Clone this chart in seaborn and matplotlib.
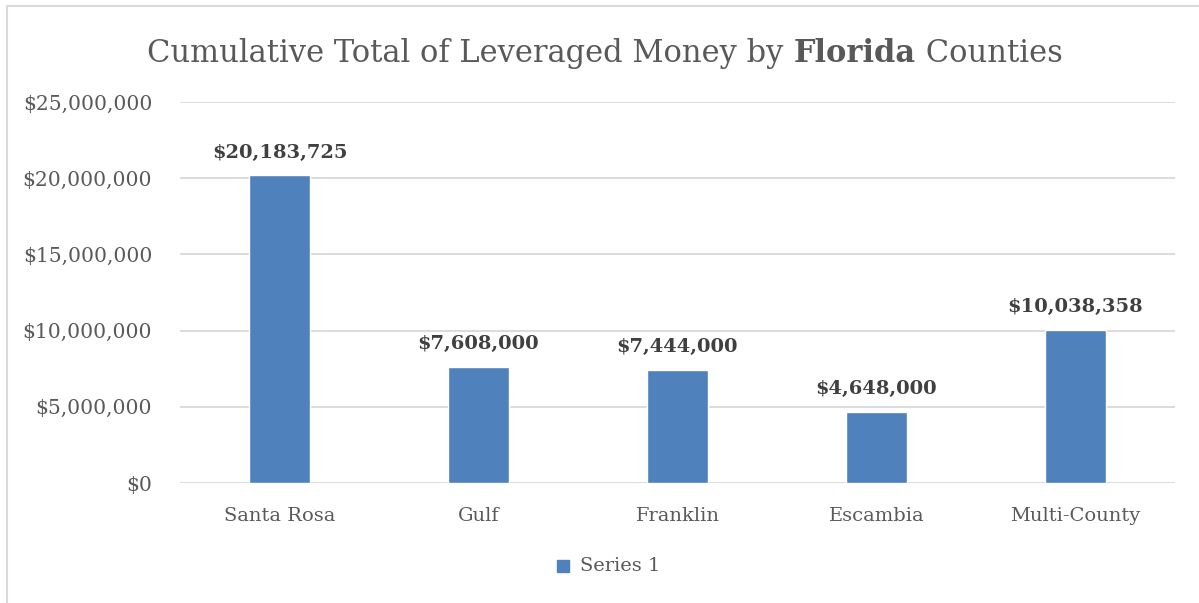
import pandas as pd
import numpy as np
import matplotlib.pyplot as plt
import seaborn as sns
from matplotlib.patches import Rectangle
from matplotlib.lines import Line2D

# data
counties = ["Santa Rosa", "Gulf", "Franklin", "Escambia", "Multi-County"]
amounts = [20183725, 7608000, 7444000, 4648000, 10038358]
y_ticks = [0, 5000000, 10000000, 15000000, 20000000, 25000000]

sns.set_theme(style="white")
plt.rcParams["font.family"] = ["DejaVu Serif"]

df = pd.DataFrame({"county": counties, "amount": amounts, "series": "Series 1"})

fig = plt.figure(figsize=(11.99, 6.03), dpi=100)
ax = fig.add_axes([180 / 1199, 1 - 483 / 603, 995 / 1199, 381 / 603])

sns.barplot(data=df, x="county", y="amount", hue="series", palette=["#4f81bd"],
            width=0.31, ax=ax, legend=False, saturation=1)

ax.set_ylim(0, 25000000)
ax.set_yticks(y_ticks)
ax.set_yticklabels([f"${v:,.0f}" for v in y_ticks])
ax.yaxis.grid(True, color="#d9d9d9", linewidth=1.3)
ax.set_axisbelow(True)
for s in ax.spines.values():
    s.set_visible(False)
ax.tick_params(axis="both", length=0, labelsize=14, labelcolor="#595959")
ax.tick_params(axis="y", pad=20, labelsize=14.6)
ax.tick_params(axis="x", pad=17)
ax.set_xlabel("")
ax.set_ylabel("")

# data labels
for i, v in enumerate(amounts):
    ax.annotate(f"${v:,.0f}", (i, v), xytext=(0, 10), textcoords="offset points",
                ha="center", va="bottom", fontsize=14, fontweight="bold", color="#404040")

# title with bold word
fig.canvas.draw()
r = fig.canvas.get_renderer()
parts = [("Cumulative Total of Leveraged Money by ", "normal"), ("Florida", "bold"), (" Counties", "normal")]
texts = []
for txt, w in parts:
    t = fig.text(0, 1 - 62 / 603, txt, fontsize=22, fontweight=w, color="#595959", va="baseline")
    texts.append(t)
widths = [t.get_window_extent(r).width for t in texts]
x = (605 - sum(widths) / 2)
for t, wd in zip(texts, widths):
    t.set_x(x / 1199)
    x += wd

# legend
fig.patches.append(Rectangle(((563 - 6) / 1199, 1 - (566 + 6) / 603), 12 / 1199, 12 / 603,
                             transform=fig.transFigure, color="#4f81bd"))
fig.text(580 / 1199, 1 - 566 / 603, "Series 1", fontsize=14, color="#595959", va="center")

# outer border, only left and top show
bx, by = 6.5 / 1199, 1 - 5.5 / 603
fig.lines.append(Line2D([bx, bx, 1.0], [0.0, by, by], transform=fig.transFigure,
                        color="#d9d9d9", linewidth=1.5))

fig.savefig("out.png", dpi=100)
